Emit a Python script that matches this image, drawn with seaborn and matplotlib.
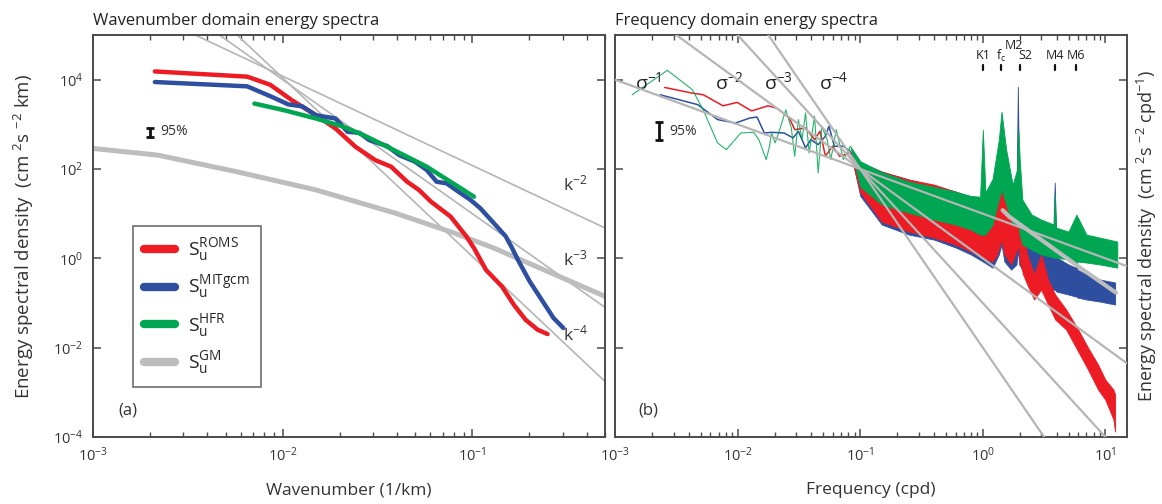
import numpy as np
import pandas as pd
import matplotlib.pyplot as plt
import seaborn as sns
from matplotlib.lines import Line2D
from matplotlib.ticker import LogLocator, FixedLocator, FuncFormatter, NullFormatter, NullLocator

# ---------------- data ----------------
# (a) wavenumber spectra
k_roms = [2.12e-3, 6.5e-3, 8.6e-3, 0.0112, 0.0150, 0.0190, 0.0242, 0.0308, 0.0373, 0.0453, 0.0523,
          0.0604, 0.0768, 0.093, 0.102, 0.118, 0.1435, 0.1656, 0.191, 0.221, 0.249]
s_roms = [1.53e4, 1.17e4, 7.7e3, 3.46e3, 1.6e3, 807, 315, 158, 113, 52, 34,
          18.7, 8.6, 3.1, 1.7, 0.55, 0.233, 0.091, 0.042, 0.0252, 0.0202]

k_mit = [2.12e-3, 6.5e-3, 8.8e-3, 0.0107, 0.01265, 0.0150, 0.0190, 0.0220, 0.0254, 0.0286, 0.0356,
         0.0411, 0.0498, 0.0575, 0.0648, 0.0731, 0.0845, 0.0977, 0.110, 0.130, 0.150, 0.162,
         0.174, 0.201, 0.232, 0.268, 0.302]
s_mit = [8.87e3, 7.1e3, 4.1e3, 2.8e3, 2.54e3, 1.6e3, 1.35e3, 681, 646, 443, 326,
         205, 146, 95, 52, 47.8, 31, 20.4, 13.3, 6.1, 3.1, 1.7,
         0.92, 0.30, 0.118, 0.046, 0.0275]

k_hfr = [7.1e-3, 0.0102, 0.0150, 0.021, 0.0267, 0.0356, 0.0453, 0.0575, 0.0697, 0.0845, 0.102]
s_hfr = [2.92e3, 2.07e3, 1.35e3, 880, 573, 315, 188, 113, 67, 40, 24]

k_gm = [1e-3, 2.19e-3, 5.73e-3, 0.015, 0.0392, 0.0805, 0.130, 0.179, 0.503]
s_gm = [289, 205, 87, 34, 10.3, 3.67, 1.70, 0.94, 0.14]

k_ref_slope = [-2, -3, -4]
k_ref_amp = [1.2, 0.01, 1.1e-4]
k_ref_labels = ['k$^{-2}$', 'k$^{-3}$', 'k$^{-4}$']
k_ref_label_y = [44.8, 0.94, 0.0197]

# (b) frequency spectra, low-frequency part (individual estimates)
f_roms_lo = [2.54e-3, 4.27e-3, 5.24e-3, 7.6e-3, 9.9e-3, 0.0130, 0.0177, 0.0209, 0.0264, 0.0292,
             0.0358, 0.0424, 0.047, 0.052, 0.0594, 0.068, 0.083]
s_roms_lo = [6.7e3, 5.0e3, 4.6e3, 2.6e3, 3.1e3, 2.0e3, 2.6e3, 2.3e3, 1.39e3, 762,
             830, 455, 700, 193, 323, 193, 229]

f_mit_lo = [2.33e-3, 4.73e-3, 6.86e-3, 9.6e-3, 0.0126, 0.0144, 0.0165, 0.0189, 0.0239, 0.0283,
            0.0313, 0.0358, 0.0396, 0.0454, 0.0519, 0.0556, 0.0615, 0.0728, 0.083]
s_mit_lo = [4.6e3, 2.76e3, 1.28e3, 1.07e3, 1.39e3, 1.46e3, 641, 663, 641, 497,
            700, 297, 455, 352, 541, 904, 323, 323, 250]

f_hfr_lo = [1.38e-3, 2.67e-3, 4.27e-3, 5.24e-3, 6.86e-3, 8.1e-3, 0.0106, 0.0135, 0.0149, 0.0171,
            0.0182, 0.0189, 0.0202, 0.0216, 0.0247, 0.0274, 0.0292, 0.0313, 0.0335, 0.0358,
            0.0383, 0.0424, 0.0454, 0.0486, 0.0537, 0.0575, 0.0637, 0.0728, 0.083]
s_hfr_lo = [4.6e3, 1.62e4, 6.0e3, 2.1e3, 383, 272, 641, 663, 455, 162,
            323, 641, 383, 641, 2.1e3, 830, 193, 1276, 455, 1800,
            229, 1514, 82, 904, 455, 162, 762, 162, 323]

# (b) high-frequency part: spread (lower / upper) of the noisy estimates
f_roms_hi = [0.083, 0.1, 0.15, 0.25, 0.4, 0.6, 0.8, 1.0, 1.2, 1.3, 1.38, 1.42, 1.5, 1.7, 1.9, 1.95,
             2.0, 2.13, 2.3, 2.62, 2.99, 3.4, 3.89, 4.78, 5.87, 7.2, 8.7, 9.96, 11.6, 12.0]
roms_top = [229, 140, 87.5, 58, 44.8, 31.2, 24.1, 20.7, 20.7, 60, 400, 1343, 97, 20.7, 75, 272,
            9.55, 3.4, 1.22, 0.434, 1.22, 0.336, 0.155, 0.0716, 0.0283, 0.0101, 0.0042, 0.00194,
            0.00116, 0.0009]
roms_bot = [229, 30, 6.65, 3.98, 2.92, 2.04, 1.42, 1.04, 0.85, 1.2, 2.0, 2.63, 1.22, 0.73, 1.57, 2.04,
            0.85, 0.434, 0.26, 0.12, 0.2, 0.0925, 0.0428, 0.0255, 0.0091, 0.00325, 0.00116,
            0.00069, 0.00025, 0.000133]

f_mit_hi = [0.083, 0.1, 0.15, 0.25, 0.4, 0.6, 0.8, 1.0, 1.2, 1.35, 1.42, 1.5, 1.7, 1.88, 1.93,
            1.98, 2.1, 2.5, 3.0, 3.7, 3.86, 4.0, 5.0, 5.7, 5.8, 5.9, 7.0, 9.0, 12.0]
mit_top = [250, 140, 87.5, 58, 42.6, 31.2, 22.9, 18.7, 16, 58, 272, 34.6, 16, 20.7, 6960,
           20.7, 5.7, 2.63, 1.57, 1.04, 49.7, 1.04, 0.73, 0.62, 7.38, 0.56, 0.434, 0.336, 0.288]
mit_bot = [250, 25, 5.7, 3.4, 2.63, 1.75, 1.22, 0.85, 0.62, 1.22, 2.04, 0.85, 0.56, 0.73, 1.57,
           0.73, 0.56, 0.336, 0.26, 0.2, 0.2, 0.18, 0.155, 0.14, 0.14, 0.133, 0.12, 0.108, 0.0925]

f_hfr_hi = [0.083, 0.1, 0.15, 0.25, 0.4, 0.6, 0.8, 0.95, 1.0, 1.05, 1.2, 1.35, 1.42, 1.55, 1.75,
            1.9, 1.95, 2.0, 2.1, 2.5, 3.0, 3.8, 3.86, 3.95, 5.0, 5.8, 7.0, 9.0, 12.5]
hfr_top = [323, 150, 85, 52, 40, 31, 25, 24, 760, 30, 60, 455, 1923, 272, 44.8,
           97, 760, 162, 20.7, 9.55, 7.38, 5.7, 26.7, 4.89, 3.98, 9.55, 3.4, 2.92, 2.38]
hfr_bot = [323, 40, 16, 10.5, 7.38, 5.7, 4.4, 3.4, 3.4, 3.4, 5.7, 20.7, 34.6, 16, 5.7,
           5.7, 5.7, 3.4, 2.04, 1.57, 1.22, 1.04, 1.04, 1.04, 0.94, 0.85, 0.805, 0.73, 0.62]

f_gm = [1.45, 1.64, 3.0, 6.0, 12.2]
s_gm_f = [12, 8.6, 2.6, 0.66, 0.17]

f_ref_slope = [-1, -2, -3, -4]
f_ref_amp = [10, 1, 0.1, 0.01]
f_ref_labels = [r'$\sigma^{-1}$', r'$\sigma^{-2}$', r'$\sigma^{-3}$', r'$\sigma^{-4}$']
f_ref_label_x = [1.46e-3, 6.58e-3, 0.0165, 0.0457]

tide_names = ['K1', 'f$_c$', 'M2', 'S2', 'M4', 'M6']
tide_freq = [1.0027, 1.40, 1.93, 2.0, 3.86, 5.8]

y_major = [1e-4, 1e-2, 1e0, 1e2, 1e4]

# ---------------- style ----------------
sns.set_theme(style='ticks')
plt.rcParams['font.family'] = ['Open Sans', 'DejaVu Sans']
plt.rcParams['mathtext.fontset'] = 'custom'
plt.rcParams['mathtext.rm'] = 'Open Sans'
plt.rcParams['mathtext.it'] = 'Open Sans'
plt.rcParams['mathtext.default'] = 'regular'

RED = '#ed1c24'
BLUE = '#2e4fa0'
GREEN = '#00a651'
GREY = '#bdbdbd'
THIN = '#b5b5b5'
INK = '#4a4a4a'
TXT = '#333333'

fig = plt.figure(figsize=(11.62, 5.04), dpi=100)
ax1 = fig.add_axes([0.080, 0.1329, 0.4406, 0.7976])
ax2 = fig.add_axes([0.5293, 0.1329, 0.4406, 0.7976])

fmt = FuncFormatter(lambda v, p: r'$10^{%d}$' % int(round(np.log10(v))))
for ax in (ax1, ax2):
    ax.set_xscale('log')
    ax.set_yscale('log')
    ax.set_ylim(1e-4, 1e5)
    ax.yaxis.set_major_locator(FixedLocator(y_major))
    ax.yaxis.set_minor_locator(NullLocator())
    ax.xaxis.set_major_locator(LogLocator(base=10))
    ax.xaxis.set_minor_locator(LogLocator(base=10, subs=np.arange(2, 10), numticks=20))
    ax.xaxis.set_minor_formatter(NullFormatter())
    ax.xaxis.set_major_formatter(fmt)
    ax.yaxis.set_major_formatter(fmt)
    ax.tick_params(which='both', direction='in', top=True, right=True, color=INK,
                   labelcolor=TXT, labelsize=10.5, pad=7)
    ax.tick_params(which='major', length=6, width=1.1)
    ax.tick_params(which='minor', length=3.5, width=1.0)
    for sp in ax.spines.values():
        sp.set_color(INK)
        sp.set_linewidth(1.4)

# ---------------- (a) ----------------
ax1.set_xlim(1e-3, 0.5)
kk = np.array([1e-3, 0.5])
for n, a in zip(k_ref_slope, k_ref_amp):
    ax1.plot(kk, a * kk ** n, color=THIN, lw=1.2, zorder=1)

sns.lineplot(x=k_gm, y=s_gm, ax=ax1, color=GREY, lw=3.6, zorder=2, sort=False, estimator=None)
sns.lineplot(x=k_roms, y=s_roms, ax=ax1, color=RED, lw=3.2, zorder=3, sort=False, estimator=None)
sns.lineplot(x=k_mit, y=s_mit, ax=ax1, color=BLUE, lw=3.2, zorder=4, sort=False, estimator=None)
sns.lineplot(x=k_hfr, y=s_hfr, ax=ax1, color=GREEN, lw=3.2, zorder=5, sort=False, estimator=None)

for lab, y in zip(k_ref_labels, k_ref_label_y):
    ax1.text(0.30, y, lab, fontsize=12.5, color=TXT, ha='left', va='center')

ax1.errorbar([2.0e-3], [680], yerr=[[150], [163]], color='#111111', lw=2, capsize=3, capthick=2)
ax1.text(2.25e-3, 680, '95%', fontsize=10, color=TXT, va='center')
ax1.text(0.05, 0.055, '(a)', transform=ax1.transAxes, fontsize=12, color=TXT)

handles = [Line2D([], [], color=c, lw=6) for c in (RED, BLUE, GREEN, GREY)]
labels = [r'$S_{u}^{ROMS}$', r'$S_{u}^{MITgcm}$', r'$S_{u}^{HFR}$', r'$S_{u}^{GM}$']
leg = ax1.legend(handles, labels, loc='lower left', bbox_to_anchor=(0.078, 0.124),
                 borderaxespad=0, frameon=True, fancybox=False, edgecolor=INK, fontsize=14,
                 handlelength=1.6, labelspacing=0.55, borderpad=0.55, handletextpad=0.7)
leg.get_frame().set_linewidth(1.2)

ax1.set_title('Wavenumber domain energy spectra', loc='left', fontsize=12, color='#222222', pad=7)
ax1.set_xlabel('Wavenumber (1/km)', fontsize=12.5, color=TXT, labelpad=12)
ax1.set_ylabel('Energy spectral density  (cm $^{2}$s $^{-2}$ km)', fontsize=13.5, color=TXT,
               labelpad=12)

# ---------------- (b) ----------------
ax2.set_xlim(1e-3, 15)
ax2.yaxis.set_major_formatter(NullFormatter())

ax2.fill_between(f_mit_hi, mit_bot, mit_top, color=BLUE, lw=0.6, zorder=2)
ax2.fill_between(f_roms_hi, roms_bot, roms_top, color=RED, lw=0.6, zorder=2.5)
ax2.fill_between(f_hfr_hi, hfr_bot, hfr_top, color=GREEN, lw=0.6, zorder=3)

sns.lineplot(x=f_roms_lo, y=s_roms_lo, ax=ax2, color=RED, lw=1.1, zorder=2.6, sort=False, estimator=None)
sns.lineplot(x=f_mit_lo, y=s_mit_lo, ax=ax2, color=BLUE, lw=1.1, zorder=2.4, sort=False, estimator=None)
sns.lineplot(x=f_hfr_lo, y=s_hfr_lo, ax=ax2, color=GREEN, lw=0.8, alpha=0.85, zorder=3, sort=False,
             estimator=None)

ff = np.array([1e-3, 15])
for n, a in zip(f_ref_slope, f_ref_amp):
    ax2.plot(ff, a * ff ** n, color=THIN, lw=1.6, zorder=4)
sns.lineplot(x=f_gm, y=s_gm_f, ax=ax2, color=GREY, lw=3.0, zorder=4.5, sort=False, estimator=None)

for lab, x in zip(f_ref_labels, f_ref_label_x):
    ax2.text(x, 9.0e3, lab, fontsize=14, color='#222222', ha='left', va='center')

ax2.errorbar([2.29e-3], [720], yerr=[[265], [430]], color='#111111', lw=2, capsize=3, capthick=2)
ax2.text(2.77e-3, 690, '95%', fontsize=10, color=TXT, va='center')
ax2.text(0.045, 0.055, '(b)', transform=ax2.transAxes, fontsize=12, color=TXT)

tr = ax2.get_xaxis_transform()
for name, fq in zip(tide_names, tide_freq):
    if name == 'M2':
        continue
    ax2.plot([fq, fq], [0.912, 0.926], transform=tr, color='#111111', lw=1.6)
for name, fq in zip(tide_names, tide_freq):
    dy = 0.975 if name == 'M2' else 0.948
    dx = {'M2': -3, 'S2': 4}.get(name, 0)
    ax2.annotate(name, (fq, dy), xycoords=tr, xytext=(dx, 0), textcoords='offset points',
                 fontsize=9, color='#222222', ha='center', va='center')

ax2.set_title('Frequency domain energy spectra', loc='left', fontsize=12, color='#222222', pad=7)
ax2.set_xlabel('Frequency (cpd)', fontsize=12.5, color=TXT, labelpad=12)
ax2.yaxis.set_label_position('right')
ax2.set_ylabel('Energy spectral density  (cm $^{2}$s $^{-2}$ cpd$^{-1}$)', fontsize=13,
               color=TXT, labelpad=6)

fig.savefig('out.png', dpi=100)
